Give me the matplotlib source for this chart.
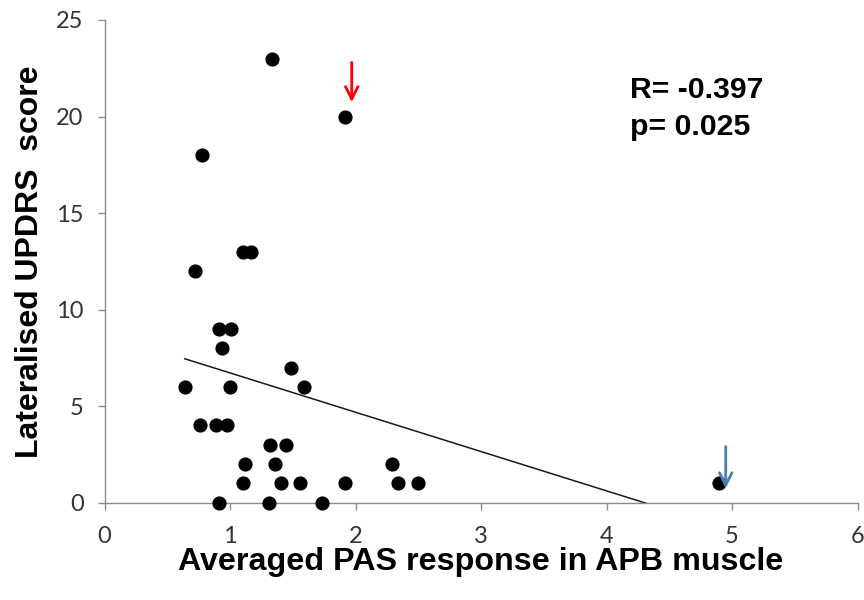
import numpy as np
import matplotlib
matplotlib.use("Agg")
import matplotlib.pyplot as plt

plt.rcParams['font.family'] = ['Lato', 'DejaVu Sans']

# Data
pas_response = [1.335, 1.92, 0.78, 1.10, 1.165, 0.72, 0.915, 1.01, 0.94, 1.49,
                0.64, 1.00, 1.59, 0.76, 0.89, 0.98, 1.32, 1.45, 1.12, 1.36,
                2.29, 1.10, 1.41, 1.555, 1.92, 2.34, 2.50, 4.90, 0.91, 1.31, 1.73]
updrs_score = [23, 20, 18, 13, 13, 12, 9, 9, 8, 7,
               6, 6, 6, 4, 4, 4, 3, 3, 2, 2,
               2, 1, 1, 1, 1, 1, 1, 1, 0, 0, 0]
x_ticks = [0, 1, 2, 3, 4, 5, 6]
y_ticks = [0, 5, 10, 15, 20, 25]
stats_lines = ["R= -0.397", "p= 0.025"]
x_label = "Averaged PAS response in APB muscle"
y_label = "Lateralised UPDRS  score"

# annotation arrows (x, y_start, y_end) in data units
red_arrow = (1.97, 22.95, 20.6)
blue_arrow = (4.95, 3.05, 0.6)

x = np.array(pas_response)
y = np.array(updrs_score)

fig = plt.figure(figsize=(8.64, 6.0), dpi=100)
ax = fig.add_axes([104.5 / 864, 1 - 502.7 / 600, 753 / 864, 482.7 / 600])

ax.plot(x, y, 'o', color='black', markersize=9.2, zorder=3, clip_on=False)

slope, intercept = np.polyfit(x, y, 1)
xl = np.array([x.min(), x.max()])
ax.plot(xl, slope * xl + intercept, color='#1a1a1a', linewidth=1.1, zorder=2)

ax.set_xlim(0, 6)
ax.set_ylim(0, 25)
ax.set_xticks(x_ticks)
ax.set_yticks(y_ticks)

for s in ['top', 'right']:
    ax.spines[s].set_visible(False)
for s in ['left', 'bottom']:
    ax.spines[s].set_color('#8c8c8c')
    ax.spines[s].set_linewidth(1.0)

ax.tick_params(axis='both', direction='out', length=5, width=1.0, color='#8c8c8c',
               labelsize=17, labelcolor='#333333')
ax.tick_params(axis='y', pad=10)
ax.tick_params(axis='x', pad=12)

ax.set_xlabel(x_label, fontsize=23.2, fontweight='bold', family='Liberation Sans', va='center')
ax.xaxis.set_label_coords(0.5, -0.122)
ax.set_ylabel(y_label, fontsize=23, fontweight='bold', family='Liberation Sans', va='center')
ax.yaxis.set_label_coords(-0.099, 0.5)

ax.text(4.19, 21.37, stats_lines[0], fontsize=21.8, fontweight='bold', family='Liberation Sans',
        ha='left', va='center')
ax.text(4.19, 19.45, stats_lines[1], fontsize=21.8, fontweight='bold', family='Liberation Sans',
        ha='left', va='center')

ax.annotate('', xy=(red_arrow[0], red_arrow[2]), xytext=(red_arrow[0], red_arrow[1]),
            arrowprops=dict(arrowstyle='->,head_length=0.9,head_width=0.45', color='red', lw=2),
            zorder=4)
ax.annotate('', xy=(blue_arrow[0], blue_arrow[2]), xytext=(blue_arrow[0], blue_arrow[1]),
            arrowprops=dict(arrowstyle='->,head_length=0.9,head_width=0.45', color='#4a7ebb', lw=2),
            zorder=4)

fig.savefig('out.png', dpi=100)
